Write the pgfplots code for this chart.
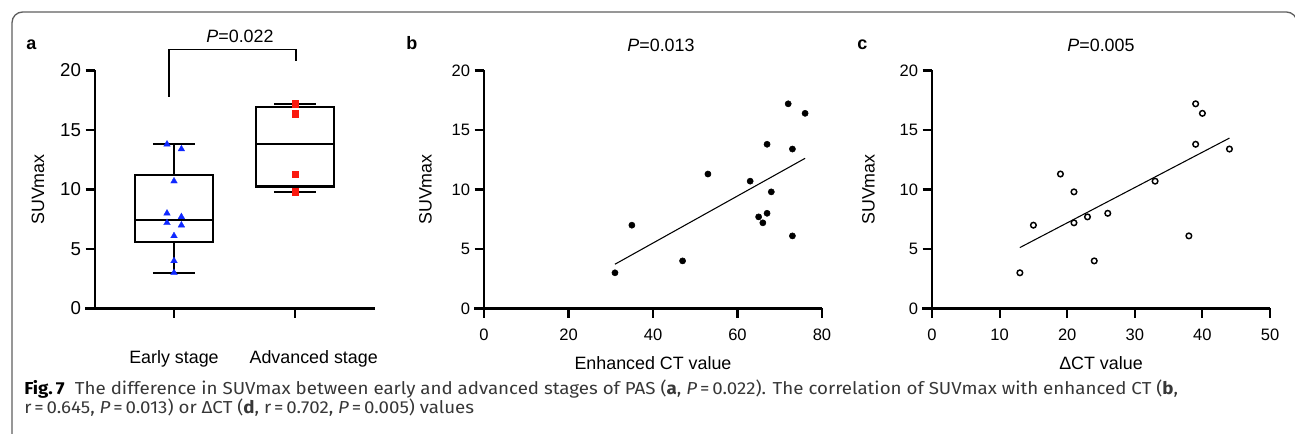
\documentclass[border=0pt]{standalone}
\usepackage{fontspec}
\setmainfont{Liberation Sans}
\newfontfamily\capfont[FakeStretch=1.08]{Fira Sans}
\usepackage{pgfplots}
\pgfplotsset{compat=1.18}
\usepgfplotslibrary{statistics}

\definecolor{triblue}{RGB}{15,40,255}
\definecolor{sqred}{RGB}{250,25,15}
\definecolor{framegray}{RGB}{95,95,95}
\definecolor{captext}{RGB}{55,55,55}

\newcommand{\fa}{\fontsize{14}{14}\selectfont}
\newcommand{\fb}{\fontsize{12.4}{12.4}\selectfont}
\newcommand{\fl}{\fontsize{13.4}{13.4}\selectfont}

\pgfplotsset{
  gp/.style={
    scale only axis,
    anchor=south west,
    height=178.5pt,
    axis lines=left,
    axis line style={-, line width=1.6pt},
    tick align=outside,
    major tick length=7pt,
    every tick/.style={black, line width=1.6pt},
    ymin=0, ymax=20, ytick={0,5,10,15,20},
    yticklabel style={font=\fb},
    xticklabel style={font=\fb, yshift=-5pt},
    label style={font=\fl},
    xlabel style={at={(axis description cs:0.5,-0.231)}, anchor=center},
    /pgf/number format/assume math mode=true,
    clip=false,
  }
}

\begin{document}
\begin{tikzpicture}[x=0.75pt,y=0.75pt]
\useasboundingbox (0,0) rectangle (1295,434);
\begin{scope}
  \clip (0,0) rectangle (1295,434);
  \draw[framegray, line width=1pt, rounded corners=8pt] (12,-20) rectangle (1297,422);
\end{scope}
\coordinate (OA) at (95,125.5);
\coordinate (OB) at (484,125.5);
\coordinate (OC) at (932,125.5);

% ---- a: boxplot ----
\begin{axis}[gp, name=pa, at={(OA)}, width=210pt,
    xmin=0.347, xmax=2.661,
    boxplot/draw direction=y,
    xtick={1,2}, xticklabels={Early stage, \hspace*{28pt}Advanced stage},
    xticklabel style={font=\fl, yshift=-16pt},
    yticklabel style={font=\fa},
    ylabel={SUVmax},
    ylabel style={at={(axis description cs:-0.2036,0.5)}, anchor=center},
  ]
  \addplot[black, line width=1.6pt, boxplot prepared={draw position=1,
      lower whisker=3.0, lower quartile=5.6, median=7.45,
      upper quartile=11.25, upper whisker=13.8,
      box extend=0.645, whisker extend=0.35}] coordinates {};
  \addplot[black, line width=1.6pt, boxplot prepared={draw position=2,
      lower whisker=9.8, lower quartile=10.25, median=13.85,
      upper quartile=16.9, upper whisker=17.2,
      box extend=0.645, whisker extend=0.35}] coordinates {};
  % early stage
  \addplot[only marks, mark=triangle*, mark size=2.9pt, color=triblue,
      mark options={draw=triblue, line width=0.2pt}] coordinates {
    (0.942,13.8) (1.061,13.4) (1,10.7) (0.942,8.0) (1.061,7.7)
    (0.942,7.2) (1.061,7.0) (1,6.1) (1,4.0) (1,3.0)};
  % advanced stage
  \addplot[only marks, mark=square*, mark size=2.5pt, color=sqred,
      mark options={draw=sqred, line width=0.2pt}] coordinates {
    (2,17.2) (2,16.4) (2,11.3) (2,9.8)};
  \draw[black, line width=0.9pt] (axis cs:0.958,17.8) |- (axis cs:2.008,21.76)
      -- (axis cs:2.008,20.76);
\end{axis}
\draw[line width=1.6pt] (pa.south west) -- ++(-10,0);

% ---- b: enhanced CT ----
\begin{axis}[gp, name=pb, at={(OB)}, width=253.5pt,
    xmin=0, xmax=80, xtick={0,20,40,60,80},
    xlabel={Enhanced CT value}, ylabel={SUVmax},
    ylabel style={at={(axis description cs:-0.173,0.5)}, anchor=center},
  ]
  \addplot[only marks, mark=*, mark size=2.3pt, black] coordinates {
    (31,3.0) (35,7.0) (47,4.0) (53,11.3) (63,10.7) (65,7.7) (66,7.2)
    (67,13.8) (67,8.0) (68,9.8) (72,17.2) (73,6.1) (73,13.4) (76,16.4)};
  \addplot[black, line width=0.8pt] coordinates {(31,3.72) (76,12.62)};
\end{axis}
\draw[line width=1.6pt] (pb.south west) -- ++(-10,0);

% ---- c: delta CT ----
\begin{axis}[gp, name=pc, at={(OC)}, width=253.5pt,
    xmin=0, xmax=50, xtick={0,10,20,30,40,50},
    xlabel={ΔCT value}, ylabel={SUVmax},
    ylabel style={at={(axis description cs:-0.188,0.5)}, anchor=center},
  ]
  \addplot[only marks, mark=o, mark size=2.1pt, black,
      mark options={line width=1.1pt, fill=white}] coordinates {
    (13,3.0) (15,7.0) (19,11.3) (21,9.8) (21,7.2) (23,7.7) (24,4.0)
    (26,8.0) (33,10.7) (38,6.1) (39,17.2) (39,13.8) (40,16.4) (44,13.4)};
  \addplot[black, line width=0.8pt] coordinates {(13,5.12) (44,14.32)};
\end{axis}
\draw[line width=1.6pt] (pc.south west) -- ++(-10,0);

% panel letters and titles
\node[anchor=base west, inner sep=0, font=\fontsize{13.5}{13.5}\selectfont\bfseries] at (26,384.5) {a};
\node[anchor=base west, inner sep=0, font=\fontsize{13.5}{13.5}\selectfont\bfseries] at (406,384.5) {b};
\node[anchor=base west, inner sep=0, font=\fontsize{13.5}{13.5}\selectfont\bfseries] at (857,384.5) {c};
\node[font=\fl, inner sep=0] at (240,398) {\textit{P}=0.022};
\node[font=\fl, inner sep=0] at (661,389) {\textit{P}=0.013};
\node[font=\fl, inner sep=0] at (1101,389) {\textit{P}=0.005};

% caption
\node[anchor=base west, inner sep=0, text=captext, font=\capfont\fontsize{13}{13}\selectfont] at (24,39)
  {{\color{black}\bfseries Fig.\,7}\hspace{0.6em}The difference in SUVmax between early and advanced stages of PAS ({\bfseries a}, \textit{P}\,=\,0.022). The correlation of SUVmax with enhanced CT ({\bfseries b},};
\node[anchor=base west, inner sep=0, text=captext, font=\capfont\fontsize{13}{13}\selectfont] at (24,20)
  {r\,=\,0.645, \textit{P}\,=\,0.013) or ΔCT ({\bfseries d}, r\,=\,0.702, \textit{P}\,=\,0.005) values};
\end{tikzpicture}
\end{document}
